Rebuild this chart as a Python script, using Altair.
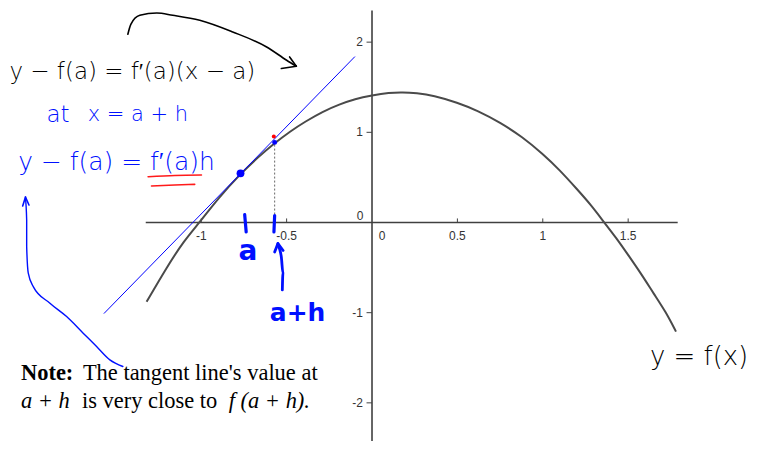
import altair as alt
import pandas as pd

# ---- data ----
curve_x = [-1.32, -1.20, -1.10, -1.01, -0.90, -0.77, -0.67, -0.57, -0.48, -0.39, -0.29, -0.19, -0.10,
           0.00, 0.10, 0.18, 0.26, 0.36, 0.50, 0.62, 0.75, 0.88, 1.00, 1.10, 1.20, 1.28, 1.36, 1.43,
           1.50, 1.58, 1.65, 1.72, 1.78]
curve_y = [-0.88, -0.49, -0.20, 0.00, 0.27, 0.54, 0.72, 0.88, 1.01, 1.12, 1.23, 1.31, 1.37,
           1.41, 1.44, 1.445, 1.435, 1.41, 1.33, 1.24, 1.11, 0.95, 0.76, 0.58, 0.37, 0.20, 0.00, -0.17,
           -0.36, -0.58, -0.79, -0.99, -1.21]
tangent_x = [-1.57, -0.10]
tangent_y = [-1.01, 1.84]
point_a = (-0.77, 0.545)
point_ah = (-0.57, 0.888)
point_tan = (-0.575, 0.955)
xtick_vals = [-1, -0.5, 0.5, 1, 1.5]
xtick_labels = ["-1", "-0.5", "0.5", "1", "1.5"]
ytick_vals = [2, 1, -1, -2]
ytick_labels = ["2", "1", "-1", "-2"]
xaxis_range = [-1.325, 1.79]
yaxis_range = [-2.5, 2.35]

# ---- layout ----
W, H = 742, 433
X0PX, XS = 364.5, 171.0
Y0PX, YS = 214.5, 90.3
XDOM = [-X0PX / XS, (W - X0PX) / XS]
YDOM = [(Y0PX - H) / YS, Y0PX / YS]
xsc = alt.Scale(domain=XDOM, nice=False, zero=False)
ysc = alt.Scale(domain=YDOM, nice=False, zero=False)


def X(f):
    return alt.X(f, type="quantitative", scale=xsc, axis=None)


def Y(f):
    return alt.Y(f, type="quantitative", scale=ysc, axis=None)


def px2d(px, py):
    return ((px - 8 - X0PX) / XS, (Y0PX - (py - 8)) / YS)


AXC = "#404040"
BLUE = "#0010ff"

layers = []

# axes
axes_df = pd.DataFrame({"x": [xaxis_range[0], 0], "x2": [xaxis_range[1], 0],
                        "y": [0, yaxis_range[0]], "y2": [0, max(yaxis_range[1], 0)]})
layers.append(alt.Chart(axes_df).mark_rule(color=AXC, strokeWidth=1.6).encode(
    x=X("x"), x2="x2", y=Y("y"), y2="y2"))

xt = pd.DataFrame({"v": xtick_vals, "lab": xtick_labels, "z": 0.0, "z2": 0.045})
layers.append(alt.Chart(xt).mark_rule(color=AXC, strokeWidth=1).encode(x=X("v"), y=Y("z"), y2="z2"))
layers.append(alt.Chart(xt).mark_text(font="Liberation Sans", fontSize=12, color="#333333",
                                      dy=14, baseline="middle").encode(x=X("v"), y=Y("z"), text="lab"))
yt = pd.DataFrame({"v": ytick_vals, "lab": ytick_labels, "z": 0.0, "z2": -0.032})
layers.append(alt.Chart(yt).mark_rule(color=AXC, strokeWidth=1).encode(y=Y("v"), x=X("z"), x2="z2"))
layers.append(alt.Chart(yt).mark_text(font="Liberation Sans", fontSize=12, color="#333333",
                                      dx=-9, align="right", baseline="middle").encode(y=Y("v"), x=X("z"), text="lab"))
zero_df = pd.DataFrame({"x": [0], "y": [0], "lab": ["0"]})
layers.append(alt.Chart(zero_df).mark_text(font="Liberation Sans", fontSize=12, color="#333333",
                                           dx=10, dy=14, baseline="middle").encode(x=X("x"), y=Y("y"), text="lab"))
layers.append(alt.Chart(zero_df).mark_text(font="Liberation Sans", fontSize=12, color="#333333",
                                           dx=-12, dy=-7, baseline="middle").encode(x=X("x"), y=Y("y"), text="lab"))

# curve
curve_df = pd.DataFrame({"x": curve_x, "y": curve_y})
layers.append(alt.Chart(curve_df).mark_line(color="#4a4a4a", strokeWidth=2, interpolate="basis").encode(
    x=X("x"), y=Y("y")))

# tangent
tan_df = pd.DataFrame({"x": tangent_x, "y": tangent_y})
layers.append(alt.Chart(tan_df).mark_line(color="#0000ff", strokeWidth=1).encode(x=X("x"), y=Y("y")))

# dotted vertical
dot_df = pd.DataFrame({"x": [point_ah[0]], "y": [0.0], "y2": [point_ah[1]]})
layers.append(alt.Chart(dot_df).mark_rule(color="#666666", strokeWidth=1, strokeDash=[2, 2]).encode(
    x=X("x"), y=Y("y"), y2="y2"))

# points
pts = pd.DataFrame({"x": [point_tan[0], point_a[0], point_ah[0]],
                    "y": [point_tan[1], point_a[1], point_ah[1]],
                    "c": ["#ff0000", "#0000ff", "#0000ff"],
                    "s": [16, 62, 24]})
layers.append(alt.Chart(pts).mark_point(filled=True, opacity=1).encode(
    x=X("x"), y=Y("y"), color=alt.Color("c:N", scale=None), size=alt.Size("s:Q", scale=None)))

# handwritten strokes (page pixels -> data)
strokes = {
    "arrow_black": ([(128, 34), (131, 24), (140, 15), (157, 12.7), (173, 15), (200, 20), (233, 31.7),
                     (267, 46.7), (287, 60), (296.7, 66)], "black", 1.6),
    "arrow_black_h1": ([(281.7, 68.3), (296.7, 66)], "black", 1.6),
    "arrow_black_h2": ([(290, 56.7), (296.7, 66)], "black", 1.6),
    "arrow_blue": ([(123, 366.7), (110, 360), (96.7, 346.7), (83.3, 333.3), (66.7, 316.7), (50, 303.3),
                    (33.3, 286.7), (28.3, 273.3), (26.7, 246.7), (26.7, 220), (25.5, 198)], BLUE, 1.4),
    "arrow_blue_h1": ([(22.7, 206), (25.5, 197)], BLUE, 1.6),
    "arrow_blue_h2": ([(29, 205), (25.5, 197)], BLUE, 1.6),
    "tick_a": ([(245, 214.5), (246.5, 232)], BLUE, 3.2),
    "tick_ah": ([(275, 215.5), (274.3, 232)], BLUE, 3.2),
    "arrow_ah": ([(282.7, 290), (283.3, 273), (281.7, 257), (278.3, 245)], BLUE, 2.8),
    "arrow_ah_h1": ([(275, 252), (278.3, 243.5)], BLUE, 2.8),
    "arrow_ah_h2": ([(283.5, 250.5), (278.3, 243.5)], BLUE, 2.8),
    "red1": ([(148.3, 176.7), (175, 175.5), (201.7, 175)], "#ff1a1a", 1.6),
    "red2": ([(151.7, 186), (175, 185), (195, 184.3)], "#ff1a1a", 1.6),
}
for name, (pts_px, col, sw) in strokes.items():
    dd = [px2d(a, b) for a, b in pts_px]
    sdf = pd.DataFrame({"x": [d[0] for d in dd], "y": [d[1] for d in dd], "o": list(range(len(dd)))})
    layers.append(alt.Chart(sdf).mark_line(color=col, strokeWidth=sw, strokeCap="round",
                                           strokeJoin="round", interpolate="monotone" if len(dd) > 2 else "linear").encode(
        x=X("x"), y=Y("y"), order="o:Q"))

# handwritten texts (page pixel centres)
hand = [
    ("y − f(a) = f′(a)(x − a)", 132.5, 72, 23, "black", 300),
    ("at", 58, 115, 23, BLUE, 300),
    ("x = a + h", 138, 115, 21, BLUE, 300),
    ("y − f(a) = f′(a)h", 116.7, 162, 25, BLUE, 300),
    ("a", 248.3, 252, 28, BLUE, 600),
    ("a+h", 298, 313, 25, BLUE, 600),
    ("y = f(x)", 700, 357, 26, "black", 300),
]
for txt, px, py, fs, col, fw in hand:
    layers.append(alt.Chart(pd.DataFrame({"t": [txt]})).mark_text(
        font="DejaVu Sans", fontSize=fs, color=col, fontWeight=fw, align="center", baseline="middle").encode(
        x=alt.value(px - 8), y=alt.value(py - 8), text="t:N"))

# note text
note = [
    ("Note:", 21, 380, "bold", "normal"),
    ("The tangent line's value at", 83, 380, "normal", "normal"),
    ("a + h", 21, 408, "normal", "italic"),
    ("is very close to", 82, 408, "normal", "normal"),
    ("f (a + h).", 229, 408, "normal", "italic"),
]
for txt, px, py, fw, st in note:
    layers.append(alt.Chart(pd.DataFrame({"t": [txt]})).mark_text(
        font="Liberation Serif", fontSize=22.5, color="black", fontWeight=fw, fontStyle=st,
        align="left", baseline="alphabetic").encode(
        x=alt.value(px - 8), y=alt.value(py - 8), text="t:N"))

chart = alt.layer(*layers).properties(
    width=W, height=H, padding=0, autosize=alt.AutoSizeParams(type="none")
).configure_view(stroke=None)

chart.save("out.html", embed_options={"renderer": "svg", "actions": False})
